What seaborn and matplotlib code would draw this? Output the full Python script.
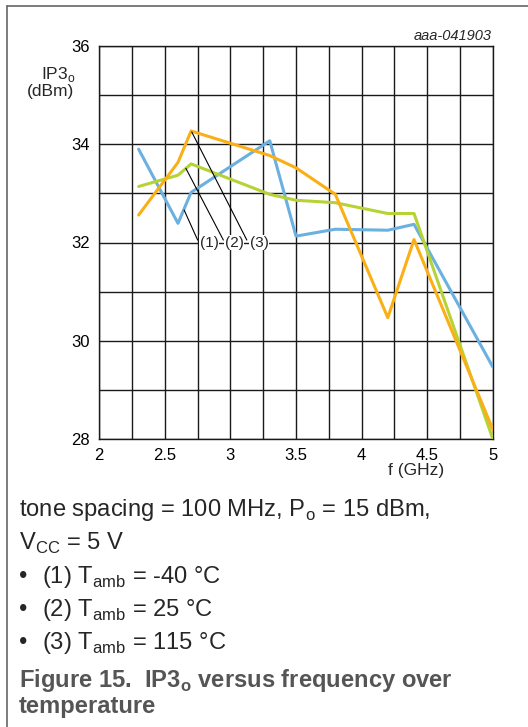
import matplotlib
matplotlib.use("Agg")
import matplotlib.pyplot as plt
import seaborn as sns
import pandas as pd
from matplotlib.lines import Line2D

# ---- data ----
freq = [2.3, 2.6, 2.7, 3.3, 3.5, 3.8, 4.2, 4.4, 5.0]
ip3_m40 = [33.9, 32.39, 33.02, 34.07, 32.13, 32.27, 32.25, 32.37, 29.47]
ip3_25 = [33.14, 33.37, 33.6, 32.98, 32.86, 32.81, 32.59, 32.59, 28.01]
ip3_115 = [32.56, 33.63, 34.27, 33.77, 33.52, 32.98, 30.47, 32.06, 28.2]
series_names = ["(1)", "(2)", "(3)"]
colors = ["#6AB0E0", "#B5D334", "#FBAF17"]
x_ticks = [2, 2.5, 3, 3.5, 4, 4.5, 5]
y_ticks = [28, 30, 32, 34, 36]

df = pd.concat([
    pd.DataFrame({"f": freq, "ip3": v, "curve": n})
    for n, v in zip(series_names, [ip3_m40, ip3_25, ip3_115])
])

sns.set_theme(style="white")
plt.rcParams["font.family"] = ["Liberation Sans", "DejaVu Sans"]
plt.rcParams["mathtext.fontset"] = "custom"
plt.rcParams["mathtext.rm"] = "Liberation Sans"

W, H = 528, 727
fig = plt.figure(figsize=(W / 100, H / 100), dpi=100)
L, R, T, B = 99.3, 492.7, 46, 439
ax = fig.add_axes([L / W, 1 - B / H, (R - L) / W, (B - T) / H])

sns.lineplot(data=df, x="f", y="ip3", hue="curve", palette=colors,
             linewidth=2.2, ax=ax, legend=False, sort=False, zorder=3)

grid_x = [2 + 0.25 * i for i in range(13)]
ax.set_xlim(2, 5)
ax.set_ylim(28, 36)
ax.set_xticks(grid_x)
ax.set_xticklabels([("%g" % t) if t in x_ticks else "" for t in grid_x])
ax.set_yticks(list(range(28, 37)))
ax.set_yticklabels([str(t) if t in y_ticks else "" for t in range(28, 37)])
ax.grid(True, color="#1a1a1a", linewidth=1.0)
ax.tick_params(axis="both", length=0, labelsize=12, colors="black")
ax.tick_params(axis="y", pad=7)
ax.tick_params(axis="x", pad=6.5)
for s in ax.spines.values():
    s.set_color("#1a1a1a")
    s.set_linewidth(1.0)
ax.set_xlabel("")
ax.set_ylabel("")

# leader lines and labels
leaders = [((2.647, 32.66), (2.75, 32.05)),
           ((2.66, 33.51), (2.946, 32.05)),
           ((2.705, 34.25), (3.125, 32.05))]
for (x0, y0), (x1, y1) in leaders:
    ax.plot([x0, x1], [y0, y1], color="black", linewidth=0.8, zorder=4)
for lab, xl in zip(series_names, [2.837, 3.028, 3.219]):
    ax.text(xl, 32, lab, ha="center", va="center", fontsize=11, zorder=5,
            bbox=dict(facecolor="white", edgecolor="none", pad=0.5))

# axis titles
fig.text(58 / W, 1 - 74 / H, "IP3$_\\mathregular{o}$", ha="center", va="center", fontsize=12.5)
fig.text(50.5 / W, 1 - 91.5 / H, "(dBm)", ha="center", va="center", fontsize=12.5)
fig.text(416 / W, 1 - 470 / H, "f (GHz)", ha="center", va="center", fontsize=12.5)
fig.text(492 / W, 1 - 36 / H, "aaa-041903", ha="right", va="center", fontsize=10.5, style="italic")

# frame
fig.add_artist(Line2D([7.3 / W, 7.3 / W], [0, 1 - 6 / H], color="#666666", linewidth=1.2))
fig.add_artist(Line2D([7.3 / W, 1], [1 - 6 / H, 1 - 6 / H], color="#666666", linewidth=1.2))

# caption
fs = 17.1
fig.text(19 / W, 1 - 510 / H, "tone spacing = 100 MHz, P$_\\mathregular{o}$ = 15 dBm,", va="center", fontsize=fs)
fig.text(19 / W, 1 - 543 / H, "V$_\\mathregular{CC}$ = 5 V", va="center", fontsize=fs)
for i, t in enumerate(["(1) T$_\\mathregular{amb}$ = -40 °C", "(2) T$_\\mathregular{amb}$ = 25 °C",
                       "(3) T$_\\mathregular{amb}$ = 115 °C"]):
    y = 577 + 33 * i
    fig.text(19 / W, 1 - y / H, "•", va="center", fontsize=fs)
    fig.text(42 / W, 1 - y / H, t, va="center", fontsize=fs)
fig.text(19 / W, 1 - 680 / H, "Figure 15.  IP3$_\\mathregular{o}$ versus frequency over",
         va="center", fontsize=fs, fontweight="bold", color="#555555")
fig.text(19 / W, 1 - 707 / H, "temperature", va="center", fontsize=fs, fontweight="bold", color="#555555")

fig.savefig("out.png", dpi=100)
